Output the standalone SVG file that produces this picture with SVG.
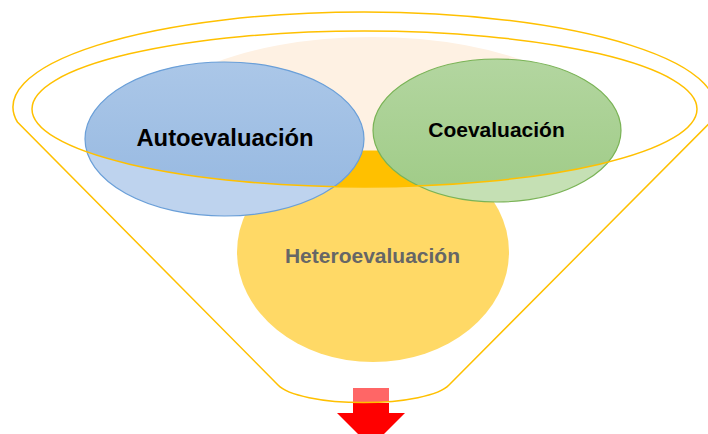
<svg xmlns="http://www.w3.org/2000/svg" width="708" height="434" viewBox="0 0 708 434">
  <style>
    .line { fill: none; stroke: #FFC000; stroke-width: 1.5; }
    .lbl { font-family: "Liberation Sans", Arial, sans-serif; font-weight: bold; text-anchor: middle; }
  </style>
  <defs>
    <clipPath id="rimClip"><ellipse cx="364.5" cy="109" rx="332.5" ry="78"/></clipPath>
    <clipPath id="creamClip"><rect x="0" y="0" width="708" height="150.5"/></clipPath>
    <clipPath id="funnelClip"><path d="M17.4,122 A351,95 0 1 1 710.6,122 L449,385 A88,23 0 0 1 278,385 Z"/></clipPath>
    <linearGradient id="blueG" x1="0" y1="0" x2="0" y2="1">
      <stop offset="0" stop-color="#ABC7E8"/>
      <stop offset="1" stop-color="#94B7E0"/>
    </linearGradient>
    <linearGradient id="greenG" x1="0" y1="0" x2="0" y2="1">
      <stop offset="0" stop-color="#B3D6A0"/>
      <stop offset="1" stop-color="#9FCB86"/>
    </linearGradient>
  </defs>

  <rect width="708" height="434" fill="#FFFFFF"/>

  <g id="heteroevaluacion">
    <ellipse cx="373" cy="252" rx="136" ry="110" fill="#FFD966"/>
    <ellipse cx="373" cy="252" rx="136" ry="110" fill="#FFC000" clip-path="url(#rimClip)"/>
  </g>

  <g id="funnel-mouth">
    <ellipse cx="372" cy="147" rx="245" ry="110" fill="#FEF1E3" clip-path="url(#creamClip)"/>
  </g>

  <g id="autoevaluacion">
    <ellipse cx="224.5" cy="139" rx="139.5" ry="77" fill="#BED3EE"/>
    <ellipse cx="224.5" cy="139" rx="139.5" ry="77" fill="url(#blueG)" clip-path="url(#rimClip)"/>
    <ellipse cx="224.5" cy="139" rx="139.5" ry="77" fill="none" stroke="#6A9FD8" stroke-width="1.2"/>
  </g>

  <g id="coevaluacion">
    <ellipse cx="497" cy="130.5" rx="124" ry="71.5" fill="#C5E0B4"/>
    <ellipse cx="497" cy="130.5" rx="124" ry="71.5" fill="url(#greenG)" clip-path="url(#rimClip)"/>
    <ellipse cx="497" cy="130.5" rx="124" ry="71.5" fill="none" stroke="#7AB356" stroke-width="1.2"/>
  </g>

  <g id="connectors">
    <polygon points="353,403 389,403 389,413 405,413 371,447 337,413 353,413" fill="#FF0000"/>
    <rect x="353" y="388" width="36" height="20" fill="#FF6666" clip-path="url(#funnelClip)"/>
  </g>

  <g id="funnel">
    <ellipse class="line" cx="364.5" cy="109" rx="332.5" ry="78"/>
    <path class="line" d="M17.4,122 A351,95 0 1 1 710.6,122 L449,385 A88,23 0 0 1 278,385 Z"/>
  </g>

  <g id="labels">
    <text class="lbl" x="225" y="146" font-size="23.8" fill="#000000">Autoevaluación</text>
    <text class="lbl" x="496.5" y="137" font-size="21" fill="#000000">Coevaluación</text>
    <text class="lbl" x="372.5" y="263" font-size="21" fill="#666666">Heteroevaluación</text>
  </g>
</svg>
